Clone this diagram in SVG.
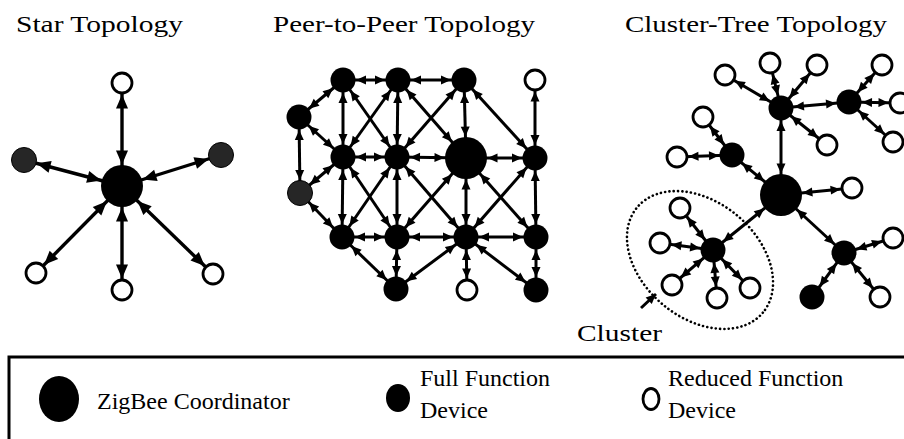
<svg xmlns="http://www.w3.org/2000/svg" width="904" height="439" viewBox="0 0 904 439">
<style>
text{font-family:"Liberation Serif","Times New Roman",serif;fill:#000}
.t{font-size:23px}
.lg{font-size:24px}
.c{fill:#000}
.f{fill:#000}
.g{fill:#262626;stroke:#000;stroke-width:1}
.o{fill:#fff;stroke:#000;stroke-width:2.8}
.cn line{stroke:#000;stroke-width:3}
.cn .sl{stroke-width:3.4}
.ss22{marker-start:url(#s22)}
.se11{marker-end:url(#s11)}
.se13{marker-end:url(#s13)}
.ps11{marker-start:url(#p11)}
.ps13{marker-start:url(#p13)}
.ps22{marker-start:url(#p22)}
.pe11{marker-end:url(#p11)}
.pe13{marker-end:url(#p13)}
.pe22{marker-end:url(#p22)}
.dot{fill:none;stroke:#000;stroke-width:2.6;stroke-dasharray:0.1 4.2;stroke-linecap:round}
</style>
<defs>
<marker id="s11" markerUnits="userSpaceOnUse" markerWidth="14" markerHeight="12" refX="25.5" refY="6" orient="auto-start-reverse" overflow="visible"><path d="M0,0 L14,6 L0,12 z"/></marker>
<marker id="s13" markerUnits="userSpaceOnUse" markerWidth="14" markerHeight="12" refX="27" refY="6" orient="auto-start-reverse" overflow="visible"><path d="M0,0 L14,6 L0,12 z"/></marker>
<marker id="s22" markerUnits="userSpaceOnUse" markerWidth="14" markerHeight="12" refX="35.5" refY="6" orient="auto-start-reverse" overflow="visible"><path d="M0,0 L14,6 L0,12 z"/></marker>
<marker id="p11" markerUnits="userSpaceOnUse" markerWidth="10" markerHeight="9" refX="21.5" refY="4.5" orient="auto-start-reverse" overflow="visible"><path d="M0,0 L10,4.5 L0,9 z"/></marker>
<marker id="p13" markerUnits="userSpaceOnUse" markerWidth="10" markerHeight="9" refX="23" refY="4.5" orient="auto-start-reverse" overflow="visible"><path d="M0,0 L10,4.5 L0,9 z"/></marker>
<marker id="p22" markerUnits="userSpaceOnUse" markerWidth="10" markerHeight="9" refX="31.5" refY="4.5" orient="auto-start-reverse" overflow="visible"><path d="M0,0 L10,4.5 L0,9 z"/></marker>
<marker id="pl" markerUnits="userSpaceOnUse" markerWidth="10" markerHeight="9" refX="10" refY="4.5" orient="auto" overflow="visible"><path d="M0,0 L10,4.5 L0,9 z"/></marker>
</defs>

<g id="titles">
<text class="t" x="16" y="32" textLength="167" lengthAdjust="spacingAndGlyphs">Star Topology</text>
<text class="t" x="273" y="32" textLength="262" lengthAdjust="spacingAndGlyphs">Peer-to-Peer Topology</text>
<text class="t" x="625" y="32" textLength="262" lengthAdjust="spacingAndGlyphs">Cluster-Tree Topology</text>
</g>

<g id="connectors" class="cn">
<line class="sl ss22 se11" x1="122" y1="186" x2="122" y2="83"/>
<line class="sl ss22 se13" x1="122" y1="186" x2="24" y2="160"/>
<line class="sl ss22 se13" x1="122" y1="186" x2="221" y2="155"/>
<line class="sl ss22 se11" x1="122" y1="186" x2="36" y2="273"/>
<line class="sl ss22 se11" x1="122" y1="186" x2="122" y2="290"/>
<line class="sl ss22 se11" x1="122" y1="186" x2="213" y2="274"/>
<line class="ps13 pe13" x1="299" y1="117" x2="343" y2="80"/>
<line class="ps13 pe13" x1="343" y1="80" x2="398" y2="80"/>
<line class="ps13 pe13" x1="398" y1="80" x2="464" y2="80"/>
<line class="ps11 pe13" x1="535" y1="80" x2="535" y2="158"/>
<line class="ps13 pe13" x1="343" y1="80" x2="343" y2="157"/>
<line class="ps13 pe13" x1="343" y1="80" x2="397" y2="157"/>
<line class="ps13 pe13" x1="398" y1="80" x2="343" y2="157"/>
<line class="ps13 pe13" x1="398" y1="80" x2="397" y2="157"/>
<line class="ps13 pe22" x1="398" y1="80" x2="466" y2="158"/>
<line class="ps13 pe13" x1="464" y1="80" x2="397" y2="157"/>
<line class="ps13 pe22" x1="464" y1="80" x2="466" y2="158"/>
<line class="ps13 pe13" x1="464" y1="80" x2="535" y2="158"/>
<line class="ps13 pe13" x1="299" y1="117" x2="300" y2="193"/>
<line class="ps13 pe13" x1="299" y1="117" x2="343" y2="157"/>
<line class="ps13 pe13" x1="343" y1="157" x2="397" y2="157"/>
<line class="ps13 pe22" x1="397" y1="157" x2="466" y2="158"/>
<line class="ps22 pe13" x1="466" y1="158" x2="535" y2="158"/>
<line class="ps13 pe13" x1="300" y1="193" x2="343" y2="157"/>
<line class="ps13 pe13" x1="300" y1="193" x2="342" y2="237"/>
<line class="ps13 pe13" x1="343" y1="157" x2="342" y2="237"/>
<line class="ps13 pe13" x1="343" y1="157" x2="397" y2="237"/>
<line class="ps13 pe13" x1="397" y1="157" x2="342" y2="237"/>
<line class="ps13 pe13" x1="397" y1="157" x2="397" y2="237"/>
<line class="ps13 pe13" x1="397" y1="157" x2="466" y2="237"/>
<line class="ps22 pe13" x1="466" y1="158" x2="397" y2="237"/>
<line class="ps22 pe13" x1="466" y1="158" x2="466" y2="237"/>
<line class="ps22 pe13" x1="466" y1="158" x2="536" y2="237"/>
<line class="ps13 pe13" x1="535" y1="158" x2="466" y2="237"/>
<line class="ps13 pe13" x1="535" y1="158" x2="536" y2="237"/>
<line class="ps13 pe13" x1="342" y1="237" x2="397" y2="237"/>
<line class="ps13 pe13" x1="397" y1="237" x2="466" y2="237"/>
<line class="ps13 pe13" x1="466" y1="237" x2="536" y2="237"/>
<line class="ps13 pe13" x1="342" y1="237" x2="396" y2="289"/>
<line class="ps13 pe13" x1="397" y1="237" x2="396" y2="289"/>
<line class="ps13 pe13" x1="466" y1="237" x2="396" y2="289"/>
<line class="ps13 pe11" x1="466" y1="237" x2="467" y2="290"/>
<line class="ps13 pe13" x1="466" y1="237" x2="536" y2="290"/>
<line class="ps13 pe13" x1="536" y1="237" x2="536" y2="290"/>
<line class="ps22 pe13" x1="781" y1="195" x2="781" y2="108"/>
<line class="ps22 pe13" x1="781" y1="195" x2="732" y2="155"/>
<line class="ps22 pe11" x1="781" y1="195" x2="852" y2="188"/>
<line class="ps22 pe13" x1="781" y1="195" x2="713" y2="250"/>
<line class="ps22 pe13" x1="781" y1="195" x2="844" y2="253"/>
<line class="ps13 pe11" x1="781" y1="108" x2="725" y2="75"/>
<line class="ps13 pe11" x1="781" y1="108" x2="770" y2="63"/>
<line class="ps13 pe11" x1="781" y1="108" x2="817" y2="65"/>
<line class="ps13 pe11" x1="781" y1="108" x2="827" y2="145"/>
<line class="ps13 pe13" x1="781" y1="108" x2="849" y2="102"/>
<line class="ps13 pe11" x1="849" y1="102" x2="882" y2="65"/>
<line class="ps13 pe11" x1="849" y1="102" x2="900" y2="103"/>
<line class="ps13 pe11" x1="849" y1="102" x2="893" y2="142"/>
<line class="ps13 pe11" x1="732" y1="155" x2="703" y2="117"/>
<line class="ps13 pe11" x1="732" y1="155" x2="677" y2="157"/>
<line class="ps13 pe11" x1="713" y1="250" x2="680" y2="208"/>
<line class="ps13 pe11" x1="713" y1="250" x2="660" y2="243"/>
<line class="ps13 pe11" x1="713" y1="250" x2="672" y2="285"/>
<line class="ps13 pe11" x1="713" y1="250" x2="717" y2="298"/>
<line class="ps13 pe11" x1="713" y1="250" x2="750" y2="288"/>
<line class="ps13 pe11" x1="844" y1="253" x2="893" y2="238"/>
<line class="ps13 pe11" x1="844" y1="253" x2="880" y2="297"/>
<line class="ps13 pe13" x1="844" y1="253" x2="812" y2="297"/>
<line marker-end="url(#pl)" x1="641" y1="308" x2="656" y2="294"/>
</g>

<g id="star-nodes">
<circle id="star-coordinator" class="c" cx="122" cy="186" r="21"/>
<circle id="star-rfd-top" class="o" cx="122" cy="83" r="10"/>
<circle id="star-ffd-left" class="g" cx="24" cy="160" r="12.5"/>
<circle id="star-ffd-right" class="g" cx="221" cy="155" r="12.5"/>
<circle id="star-rfd-bl" class="o" cx="36" cy="273" r="10"/>
<circle id="star-rfd-b" class="o" cx="122" cy="290" r="10"/>
<circle id="star-rfd-br" class="o" cx="213" cy="274" r="10"/>
</g>

<g id="p2p-nodes">
<circle id="p-a1" class="f" cx="343" cy="80" r="12.5"/>
<circle id="p-a2" class="f" cx="398" cy="80" r="12.5"/>
<circle id="p-a3" class="f" cx="464" cy="80" r="12.5"/>
<circle id="p-a4" class="o" cx="535" cy="80" r="10"/>
<circle id="p-l" class="f" cx="299" cy="117" r="12.5"/>
<circle id="p-b1" class="f" cx="343" cy="157" r="12.5"/>
<circle id="p-b2" class="f" cx="397" cy="157" r="12.5"/>
<circle id="p-coordinator" class="c" cx="466" cy="158" r="21"/>
<circle id="p-b4" class="f" cx="535" cy="158" r="12.5"/>
<circle id="p-g" class="g" cx="300" cy="193" r="12.5"/>
<circle id="p-c1" class="f" cx="342" cy="237" r="12.5"/>
<circle id="p-c2" class="f" cx="397" cy="237" r="12.5"/>
<circle id="p-c3" class="f" cx="466" cy="237" r="12.5"/>
<circle id="p-c4" class="f" cx="536" cy="237" r="12.5"/>
<circle id="p-d2" class="f" cx="396" cy="289" r="12.5"/>
<circle id="p-d3" class="o" cx="467" cy="290" r="10"/>
<circle id="p-d4" class="f" cx="536" cy="290" r="12.5"/>
</g>

<g id="cluster-nodes">
<ellipse id="cluster-outline" class="dot" cx="700" cy="260" rx="82" ry="58" transform="rotate(40 700 260)"/>
<circle id="ct-coordinator" class="c" cx="781" cy="195" r="21"/>
<circle id="ct-top" class="f" cx="781" cy="108" r="12.5"/>
<circle id="ct-topright" class="f" cx="849" cy="102" r="12.5"/>
<circle id="ct-left" class="f" cx="732" cy="155" r="12.5"/>
<circle id="ct-cluster" class="f" cx="713" cy="250" r="12.5"/>
<circle id="ct-bottomright" class="f" cx="844" cy="253" r="12.5"/>
<circle id="ct-bottom" class="f" cx="812" cy="297" r="12.5"/>
<circle class="o" cx="725" cy="75" r="10"/>
<circle class="o" cx="770" cy="63" r="10"/>
<circle class="o" cx="817" cy="65" r="10"/>
<circle class="o" cx="827" cy="145" r="10"/>
<circle class="o" cx="882" cy="65" r="10"/>
<circle class="o" cx="900" cy="103" r="10"/>
<circle class="o" cx="893" cy="142" r="10"/>
<circle class="o" cx="703" cy="117" r="10"/>
<circle class="o" cx="677" cy="157" r="10"/>
<circle class="o" cx="852" cy="188" r="10"/>
<circle class="o" cx="680" cy="208" r="10"/>
<circle class="o" cx="660" cy="243" r="10"/>
<circle class="o" cx="672" cy="285" r="10"/>
<circle class="o" cx="717" cy="298" r="10"/>
<circle class="o" cx="750" cy="288" r="10"/>
<circle class="o" cx="893" cy="238" r="10"/>
<circle class="o" cx="880" cy="297" r="10"/>
<text class="t" x="577" y="341" textLength="85" lengthAdjust="spacingAndGlyphs">Cluster</text>
</g>

<g id="legend">
<rect x="9" y="357" width="900" height="90" fill="none" stroke="#000" stroke-width="3"/>
<ellipse class="c" cx="59" cy="399" rx="20" ry="23"/>
<text class="lg" x="97" y="409">ZigBee Coordinator</text>
<ellipse class="f" cx="398" cy="398" rx="12" ry="14"/>
<text class="lg" x="420" y="386">Full Function</text>
<text class="lg" x="420" y="418">Device</text>
<ellipse class="o" cx="651" cy="399" rx="8" ry="10.5"/>
<text class="lg" x="668" y="386">Reduced Function</text>
<text class="lg" x="668" y="418">Device</text>
</g>
</svg>
